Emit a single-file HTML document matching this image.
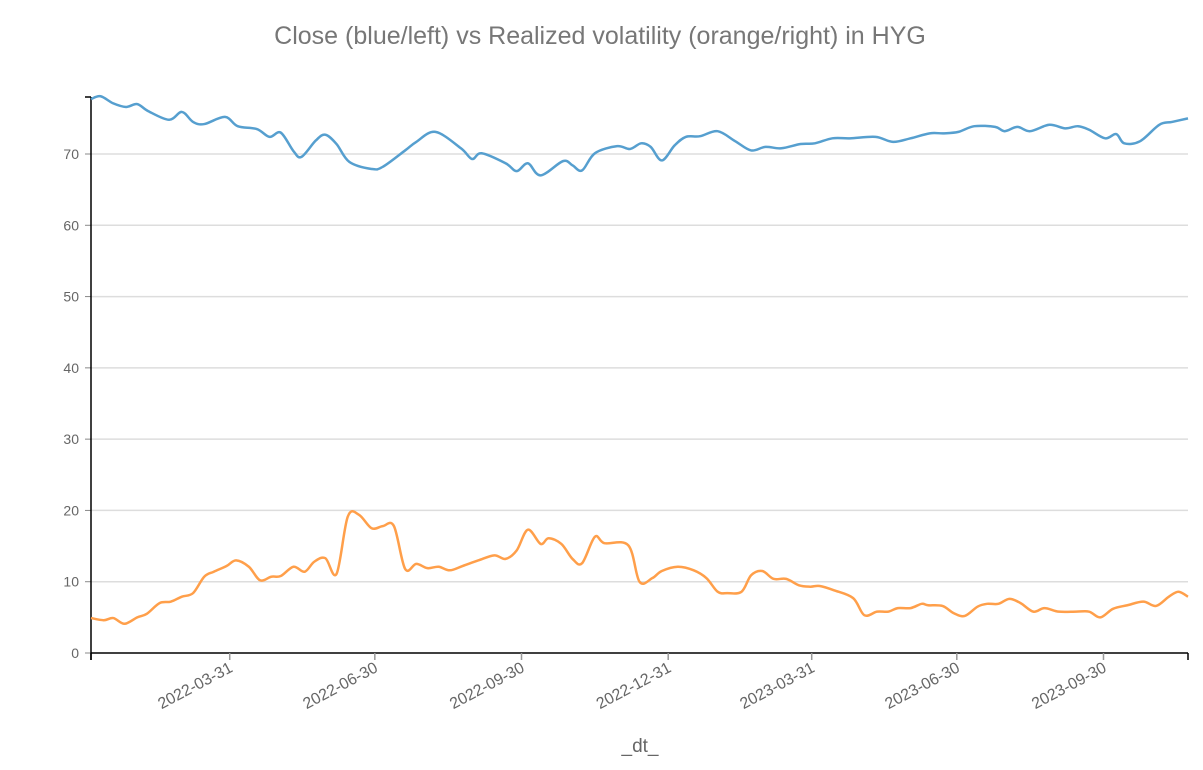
<!DOCTYPE html>
<html><head><meta charset="utf-8"><style>
body{margin:0;background:#fff;font-family:"Liberation Sans",Arial,sans-serif}
svg text{font-family:"Liberation Sans",Arial,sans-serif}
</style></head><body>
<svg id="chart" width="1203" height="765">
<text x="600" y="44" text-anchor="middle" font-size="25" fill="#777">Close (blue/left) vs Realized volatility (orange/right) in HYG</text>
<g id="grid"></g><g id="axes"></g><g id="series"></g>
<text x="640" y="752" text-anchor="middle" font-size="19" fill="#666">_dt_</text>
</svg>
<script>
const startDate = "2022-01-03";
const endDay = 688;
const yTicks = [0,10,20,30,40,50,60,70];
const xTickDates = ["2022-03-31","2022-06-30","2022-09-30","2022-12-31","2023-03-31","2023-06-30","2023-09-30"];
const closeDays = [0,6,14,22,29,36,49,57,64,71,84,92,104,112,119,127,132,141,147,154,162,176,183,197,204,216,232,239,245,260,267,274,282,296,302,308,316,330,338,345,351,358,366,373,382,393,404,414,423,433,445,454,465,476,492,503,514,526,535,544,554,567,573,581,589,601,611,619,626,636,643,648,658,670,678,688];
const closeVals = [77.7,78.1,77.1,76.6,77.0,76.0,74.8,75.9,74.5,74.2,75.2,73.9,73.5,72.4,73.0,70.4,69.6,71.9,72.7,71.4,68.9,67.9,68.2,70.5,71.7,73.1,70.8,69.3,70.1,68.7,67.6,68.7,67.0,69.0,68.4,67.7,70.1,71.1,70.7,71.5,71.0,69.1,71.2,72.4,72.5,73.2,71.8,70.5,71.0,70.8,71.4,71.5,72.2,72.2,72.4,71.7,72.2,72.9,72.9,73.1,73.9,73.8,73.2,73.8,73.2,74.1,73.6,73.9,73.4,72.2,72.8,71.5,71.8,74.1,74.5,75.0];
const volDays = [0,8,14,21,29,35,43,50,57,64,71,77,85,91,99,106,113,119,127,134,140,147,154,161,168,176,183,190,197,204,211,218,225,233,243,253,260,267,274,282,287,295,302,308,316,322,337,344,352,358,368,378,386,393,399,408,414,421,428,436,444,451,457,466,478,485,493,500,506,514,521,525,534,541,548,556,562,569,576,583,591,598,607,618,626,633,641,650,660,668,676,682,688];
const volVals = [4.9,4.6,4.9,4.1,5.0,5.5,7.0,7.2,7.9,8.4,10.7,11.4,12.2,13.0,12.1,10.2,10.7,10.8,12.1,11.4,12.8,13.3,11.1,19.1,19.4,17.5,17.8,17.8,11.8,12.5,11.9,12.1,11.6,12.2,13.0,13.7,13.2,14.4,17.3,15.3,16.1,15.3,13.2,12.6,16.3,15.4,15.1,10.0,10.5,11.5,12.1,11.6,10.5,8.6,8.4,8.6,10.9,11.5,10.4,10.4,9.5,9.3,9.4,8.8,7.7,5.3,5.8,5.8,6.3,6.3,6.9,6.7,6.6,5.6,5.2,6.5,6.9,6.9,7.6,7.0,5.8,6.3,5.8,5.8,5.8,5.0,6.2,6.7,7.2,6.6,7.9,8.6,7.9];

const X0=91,X1=1188,Y0=653,PY=49.9;
const x=d=>X0+(d/endDay)*(X1-X0);
const y=v=>Y0-v*PY/7;
const NS="http://www.w3.org/2000/svg";
function mk(t,a,p){const e=document.createElementNS(NS,t);for(const k in a)e.setAttribute(k,a[k]);p.appendChild(e);return e;}
const grid=document.getElementById('grid'),axes=document.getElementById('axes'),ser=document.getElementById('series');
yTicks.forEach(v=>{
  if(v>0){const g=mk('line',{x1:X0,x2:X1,y1:y(v),y2:y(v),stroke:'#ddd','stroke-width':1.5},grid);
  
  }
  mk('line',{x1:X0-6,x2:X0,y1:y(v),y2:y(v),stroke:'#888','stroke-width':1},axes);
  const t=mk('text',{x:X0-12,y:y(v)+5,'text-anchor':'end','font-size':14,fill:'#666'},axes);t.textContent=v;
  
  
});
const yax=mk('line',{x1:X0,x2:X0,y1:97,y2:Y0+7,stroke:'#000','stroke-width':1.5},axes);


mk('line',{x1:X0-6,x2:X0,y1:97,y2:97,stroke:'#000','stroke-width':1.5},axes);
const xax=mk('line',{x1:X0,x2:X1,y1:Y0,y2:Y0,stroke:'#000','stroke-width':1.5},axes);


mk('line',{x1:X0,x2:X0,y1:Y0,y2:Y0+7,stroke:'#000','stroke-width':1.5},axes);
mk('line',{x1:X1,x2:X1,y1:Y0,y2:Y0+7,stroke:'#000','stroke-width':1.5},axes);
const s0=Date.parse(startDate);
xTickDates.forEach(ds=>{
  const d=(Date.parse(ds)-s0)/86400000, xx=x(d);
  mk('line',{x1:xx,x2:xx,y1:Y0,y2:Y0+7,stroke:'#999','stroke-width':1.5},axes);
  const ax=xx+4, ay=Y0+18;
  const t=mk('text',{x:ax,y:ay,'text-anchor':'end','font-size':16,fill:'#666',transform:`rotate(-28 ${ax} ${ay})`},axes);
  t.textContent=ds;
  
  
});
function path(ds,vs){
  const P=ds.map((d,i)=>[x(d),y(vs[i])]);
  let s=`M${P[0][0]},${P[0][1]}`;
  for(let i=0;i<P.length-1;i++){
    const p0=P[i-1]||P[i],p1=P[i],p2=P[i+1],p3=P[i+2]||p2;
    const c1=[p1[0]+(p2[0]-p0[0])/6,p1[1]+(p2[1]-p0[1])/6],c2=[p2[0]-(p3[0]-p1[0])/6,p2[1]-(p3[1]-p1[1])/6];
    s+=`C${c1[0]},${c1[1]} ${c2[0]},${c2[1]} ${p2[0]},${p2[1]}`;
  }
  return s;
}
const l1=mk('path',{d:path(closeDays,closeVals),fill:'none',stroke:'#569fcf','stroke-width':2.5},ser);


const l2=mk('path',{d:path(volDays,volVals),fill:'none',stroke:'#ff9f4a','stroke-width':2.5},ser);


</script>
</body></html>
